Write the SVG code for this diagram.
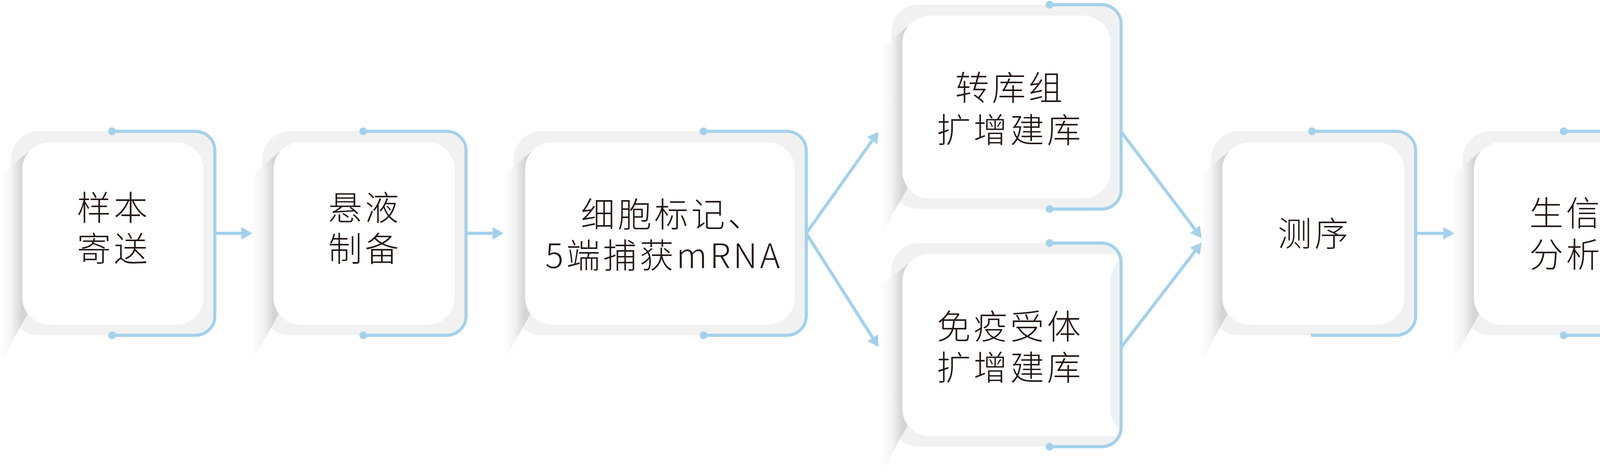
<svg xmlns="http://www.w3.org/2000/svg" width="4270" height="1218" viewBox="0 0 4270 1218">
<style>
.card{fill:#f1f1f1}
.face{fill:#ffffff}
.shadow{fill:url(#sg)}
.br{fill:none;stroke:#a3d1ec;stroke-width:8}
.dot{fill:#a3d1ec}
.t{font-family:"Noto Sans CJK SC","Noto Sans",sans-serif;font-size:87px;font-weight:300;letter-spacing:7px;fill:#231815}
.m{text-anchor:middle}
.ln{fill:none;stroke:#a3d1ec;stroke-width:8;marker-end:url(#ah)}
</style>
<defs>
<linearGradient id="sg" x1="0" y1="0" x2="1" y2="0">
<stop offset="0" stop-color="#ffffff"/>
<stop offset="0.3" stop-color="#f3f3f3"/>
<stop offset="0.579" stop-color="#d4d4d4"/>
<stop offset="1" stop-color="#d4d4d4"/>
</linearGradient>
<marker id="ah" viewBox="0 0 28 32" refX="8" refY="16" markerWidth="28" markerHeight="32" markerUnits="userSpaceOnUse" orient="auto">
<path d="M0,0 L28,16 L0,32 Z" fill="#a3d1ec"/>
</marker>
</defs>
<rect width="4270" height="1218" fill="#ffffff"/>

<g id="node-1">
<path class="card" d="M99,336 H490 A56,56 0 0 1 546,392 V802 A56,56 0 0 1 490,858 H99 A70,70 0 0 1 29,788 V406 A70,70 0 0 1 99,336 Z"/>
<polygon class="shadow" points="71,389 2,448 2,925 71,803 97,791 97,404"/>
<rect class="face" x="57" y="364" width="464" height="467" rx="70"/>
<path class="br" d="M287,336 H500 A50,50 0 0 1 550,386 V808 A50,50 0 0 1 500,858 H287"/>
<circle class="dot" cx="287" cy="336" r="10"/>
<circle class="dot" cx="287" cy="858" r="10"/>
<text class="t m"><tspan x="291" y="564">样本</tspan><tspan x="291" y="669">寄送</tspan></text>
</g>

<g id="node-2">
<path class="card" d="M742,336 H1133 A56,56 0 0 1 1189,392 V802 A56,56 0 0 1 1133,858 H742 A70,70 0 0 1 672,788 V406 A70,70 0 0 1 742,336 Z"/>
<polygon class="shadow" points="714,389 645,448 645,925 714,803 740,791 740,404"/>
<rect class="face" x="700" y="364" width="464" height="467" rx="70"/>
<path class="br" d="M930,336 H1143 A50,50 0 0 1 1193,386 V808 A50,50 0 0 1 1143,858 H930"/>
<circle class="dot" cx="930" cy="336" r="10"/>
<circle class="dot" cx="930" cy="858" r="10"/>
<text class="t m"><tspan x="934" y="564">悬液</tspan><tspan x="934" y="669">制备</tspan></text>
</g>

<g id="node-3">
<path class="card" d="M1386,336 H2004 A56,56 0 0 1 2060,392 V802 A56,56 0 0 1 2004,858 H1386 A70,70 0 0 1 1316,788 V406 A70,70 0 0 1 1386,336 Z"/>
<polygon class="shadow" points="1358,389 1289,448 1289,925 1358,803 1384,791 1384,404"/>
<rect class="face" x="1344" y="364" width="691" height="467" rx="70"/>
<path class="br" d="M1801,336 H2014 A50,50 0 0 1 2064,386 V808 A50,50 0 0 1 2014,858 H1801"/>
<circle class="dot" cx="1801" cy="336" r="10"/>
<circle class="dot" cx="1801" cy="858" r="10"/>
<text class="t"><tspan x="1487" y="581">细胞标记、</tspan><tspan x="1396" y="686">5端捕获mRNA</tspan></text>
</g>

<g id="node-4">
<path class="card" d="M2352,12 H2810 A56,56 0 0 1 2866,68 V479 A56,56 0 0 1 2810,535 H2352 A70,70 0 0 1 2282,465 V82 A70,70 0 0 1 2352,12 Z"/>
<polygon class="shadow" points="2324,67 2255,126 2255,602 2324,480 2350,468 2350,80"/>
<rect class="face" x="2310" y="40" width="533" height="468" rx="70"/>
<path class="br" d="M2687,12 H2820 A50,50 0 0 1 2870,62 V485 A50,50 0 0 1 2820,535 H2687"/>
<circle class="dot" cx="2687" cy="12" r="10"/>
<circle class="dot" cx="2687" cy="535" r="10"/>
<text class="t m"><tspan x="2586" y="257">转库组</tspan><tspan x="2586" y="365">扩增建库</tspan></text>
</g>

<g id="node-5">
<path class="card" d="M2352,622 H2810 A56,56 0 0 1 2866,678 V1087 A56,56 0 0 1 2810,1143 H2352 A70,70 0 0 1 2282,1073 V692 A70,70 0 0 1 2352,622 Z"/>
<polygon class="shadow" points="2324,675 2255,734 2255,1210 2324,1088 2350,1076 2350,690"/>
<path class="face" d="M2380,650 H2855 Q2863,651 2866,658 C2858,676 2843,694 2843,718 V1046 C2843,1070 2858,1088 2866,1104 Q2863,1114 2855,1116 H2380 A70,70 0 0 1 2310,1046 V720 A70,70 0 0 1 2380,650 Z"/>
<path class="br" d="M2687,622 H2820 A50,50 0 0 1 2870,672 V1093 A50,50 0 0 1 2820,1143 H2687"/>
<circle class="dot" cx="2687" cy="622" r="10"/>
<circle class="dot" cx="2687" cy="1143" r="10"/>
<text class="t m"><tspan x="2586" y="868">免疫受体</tspan><tspan x="2586" y="973">扩增建库</tspan></text>
</g>

<g id="node-6">
<path class="card" d="M3171,336 H3564 A56,56 0 0 1 3620,392 V802 A56,56 0 0 1 3564,858 H3171 A70,70 0 0 1 3101,788 V406 A70,70 0 0 1 3171,336 Z"/>
<polygon class="shadow" points="3143,389 3074,448 3074,925 3143,803 3169,791 3169,404"/>
<rect class="face" x="3129" y="364" width="466" height="467" rx="70"/>
<path class="br" d="M3359,336 H3574 A50,50 0 0 1 3624,386 V808 A50,50 0 0 1 3574,858 H3356"/>
<circle class="dot" cx="3359" cy="336" r="10"/>
<text class="t m" x="3365" y="630">测序</text>
</g>

<g id="node-7">
<path class="card" d="M3815,336 H4205 A56,56 0 0 1 4261,392 V802 A56,56 0 0 1 4205,858 H3815 A70,70 0 0 1 3745,788 V406 A70,70 0 0 1 3815,336 Z"/>
<polygon class="shadow" points="3787,389 3718,448 3718,925 3787,803 3813,791 3813,404"/>
<rect class="face" x="3773" y="364" width="463" height="467" rx="70"/>
<path class="br" d="M4003,336 H4215 A50,50 0 0 1 4265,386 V808 A50,50 0 0 1 4215,858 H4003"/>
<circle class="dot" cx="4003" cy="336" r="10"/>
<circle class="dot" cx="4003" cy="858" r="10"/>
<text class="t m"><tspan x="4009" y="578">生信</tspan><tspan x="4009" y="684">分析</tspan></text>
</g>

<g id="connectors">
<path class="ln" d="M550,597 H626"/>
<path class="ln" d="M1193,597 H1269"/>
<path class="ln" d="M2064,597 L2237.4,353.3"/>
<path class="ln" d="M2064,597 L2238.3,871.1"/>
<path class="ln" d="M2870,337 L3063.9,593.1"/>
<path class="ln" d="M2870,889 L3063.8,636.9"/>
<path class="ln" d="M3624,597 H3703"/>
</g>
</svg>
